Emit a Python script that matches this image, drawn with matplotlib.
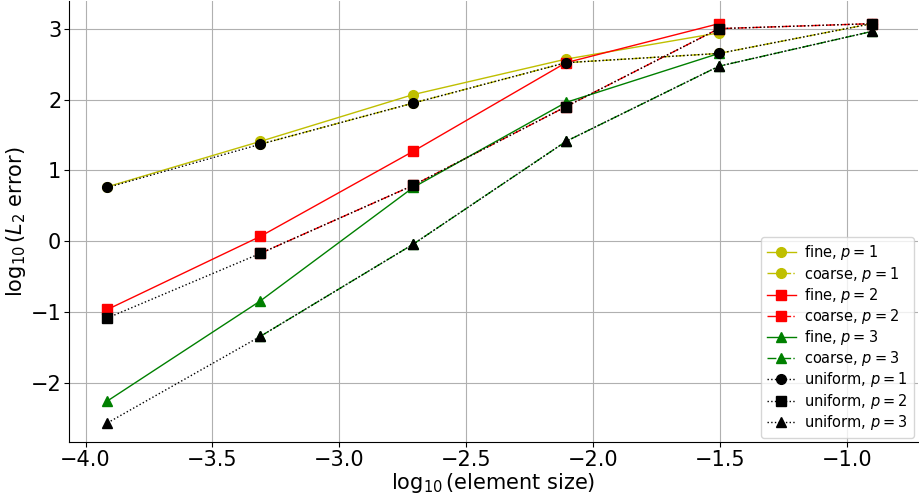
import matplotlib.pyplot as plt
import numpy as np

# log10 of element sizes (1/8 ... 1/8192)
h_all = np.log10([1/8192, 1/2048, 1/512, 1/128, 1/32, 1/8])
h_fine = h_all[:5]
h_coarse = h_all[1:]

# log10(L2 error)
fine_p1 = [0.77, 1.41, 2.07, 2.57, 2.94]
fine_p2 = [-0.96, 0.07, 1.27, 2.52, 3.07]
fine_p3 = [-2.25, -0.84, 0.76, 1.96, 2.65]

coarse_p1 = [1.37, 1.95, 2.52, 2.65, 3.07]
coarse_p2 = [-0.17, 0.79, 1.90, 3.00, 3.07]
coarse_p3 = [-1.34, -0.04, 1.41, 2.47, 2.96]

uniform_p1 = [0.76, 1.37, 1.95, 2.52, 2.65, 3.07]
uniform_p2 = [-1.08, -0.17, 0.79, 1.90, 3.00, 3.07]
uniform_p3 = [-2.56, -1.34, -0.04, 1.41, 2.47, 2.96]

plt.rcParams['font.size'] = 15
fig, ax = plt.subplots(figsize=(9.2, 4.95), dpi=100)
fig.subplots_adjust(left=0.075, right=0.998, bottom=0.107, top=0.998)

ms = 7
ax.plot(h_fine, fine_p1, 'y-o', ms=ms, lw=1, label=r'fine, $p=1$')
ax.plot(h_coarse, coarse_p1, 'y-.o', ms=ms, lw=1, label=r'coarse, $p=1$')
ax.plot(h_fine, fine_p2, 'r-s', ms=ms, lw=1, label=r'fine, $p=2$')
ax.plot(h_coarse, coarse_p2, 'r-.s', ms=ms, lw=1, label=r'coarse, $p=2$')
ax.plot(h_fine, fine_p3, 'g-^', ms=ms, lw=1, label=r'fine, $p=3$')
ax.plot(h_coarse, coarse_p3, 'g-.^', ms=ms, lw=1, label=r'coarse, $p=3$')
ax.plot(h_all, uniform_p1, 'k:o', ms=ms, lw=1, label=r'uniform, $p=1$')
ax.plot(h_all, uniform_p2, 'k:s', ms=ms, lw=1, label=r'uniform, $p=2$')
ax.plot(h_all, uniform_p3, 'k:^', ms=ms, lw=1, label=r'uniform, $p=3$')

ax.set_xlim(-4.065, -0.72)
ax.set_ylim(-2.83, 3.39)
ax.grid(True)
ax.spines['top'].set_visible(False)
ax.spines['right'].set_visible(False)
ax.tick_params(pad=2)
ax.set_xlabel(r'$\log_{10}$(element size)', labelpad=1)
ax.set_ylabel(r'$\log_{10}(L_2$ error)', labelpad=2)
ax.legend(loc='lower right', fontsize=10.5, labelspacing=0.15,
          handletextpad=0.6, borderaxespad=0.3)

plt.savefig('out.png', dpi=100)
